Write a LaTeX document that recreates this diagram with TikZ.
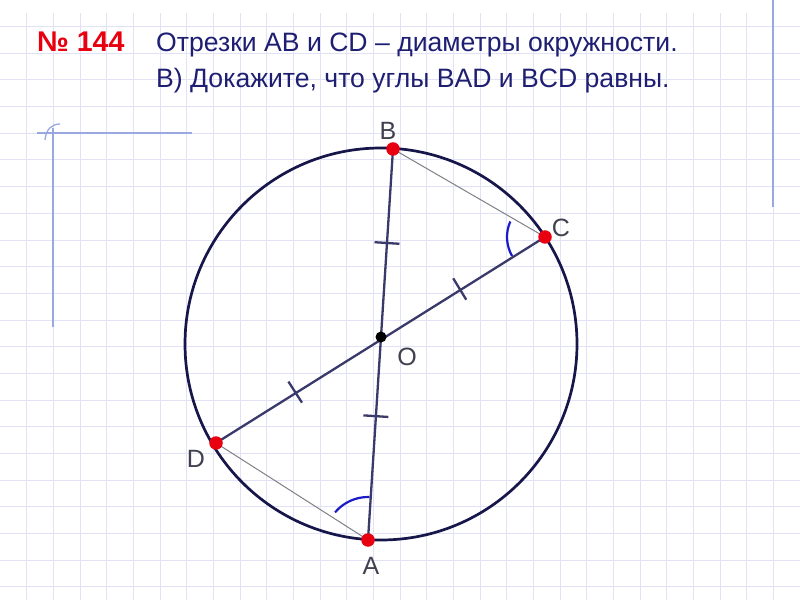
\documentclass[tikz,border=0pt]{standalone}
\usepackage{fontspec}
\setmainfont{Liberation Sans}
\usetikzlibrary{calc}
\definecolor{gridc}{HTML}{E2E2F6}
\definecolor{marginc}{HTML}{9AA8E2}
\definecolor{navy}{HTML}{1E1E72}
\definecolor{circc}{HTML}{16164A}
\definecolor{diamc}{HTML}{3A3A6A}
\definecolor{chordc}{HTML}{808088}
\definecolor{dotred}{HTML}{E80010}
\definecolor{arcblue}{HTML}{1A1AC8}
\definecolor{labc}{HTML}{404050}
\tikzset{
  gridline/.style={draw=gridc, line width=1pt},
  marginline/.style={draw=marginc, line width=1.3pt},
  circline/.style={draw=circc, line width=2.7pt},
  diam/.style={draw=diamc, line width=2.3pt},
  chord/.style={draw=chordc, line width=1pt},
  tickmark/.style={draw=diamc, line width=2.3pt},
  anglearc/.style={draw=arcblue, line width=2.2pt},
  reddot/.style={circle, fill=dotred, inner sep=0pt, minimum size=13.5pt},
  blackdot/.style={circle, fill=black, inner sep=0pt, minimum size=11pt},
  ptlabel/.style={text=labc, font=\fontsize{25}{27}\selectfont, inner sep=0pt},
  titletext/.style={text=navy, font=\fontsize{26.6}{28}\selectfont, anchor=base west, inner sep=0pt},
}
\begin{document}
\begin{tikzpicture}[x=1pt,y=1pt]
\useasboundingbox (0,0) rectangle (800,600);
\fill[white] (0,0) rectangle (800,600);
% grid
\foreach \k in {1,...,29} {
  \draw[gridline] ({\k*26.667},0) -- ({\k*26.667},587);
}
\foreach \k in {1,...,22} {
  \draw[gridline] (0,{600-\k*26.667}) -- (800,{600-\k*26.667});
}
% margin lines
\draw[marginline] (37,467) -- (192,467);
\draw[marginline] (53,472) -- (53,273);
\draw[marginline] (45,460) .. controls (46,471) and (52,476) .. (60,476);
\draw[marginline] (773,600) -- (773,393);
% title
\node[titletext, text=dotred, font=\fontsize{28.5}{30}\selectfont\bfseries] (num) at (37,548) {№ 144};
\node[titletext] (line1) at (156,548) {Отрезки AB и CD – диаметры окружности.};
\node[titletext] (line2) at (156,512) {В) Докажите, что углы BAD и BCD равны.};
% geometry
\coordinate (Oc) at (381,256);
\coordinate (O) at (381,263);
\coordinate (B) at (393,451);
\coordinate (A) at (368,60);
\coordinate (C) at (545,363);
\coordinate (D) at (216,157);
\draw[circline] (Oc) circle[radius=196];
\draw[chord] (B) -- (C);
\draw[chord] (D) -- (A);
\draw[diam] (B) -- (A);
\draw[diam] (C) -- (D);
% ticks
\draw[tickmark] ($(O)!0.5!(B)!12.5pt!90:(B)$) -- ($(O)!0.5!(B)!12.5pt!-90:(B)$);
\draw[tickmark] ($(O)!0.39!(A)!12.5pt!90:(A)$) -- ($(O)!0.39!(A)!12.5pt!-90:(A)$);
\draw[tickmark] ($(O)!0.48!(C)!12.5pt!90:(C)$) -- ($(O)!0.48!(C)!12.5pt!-90:(C)$);
\draw[tickmark] ($(O)!0.52!(D)!12.5pt!90:(D)$) -- ($(O)!0.52!(D)!12.5pt!-90:(D)$);
% angle arcs
\draw[anglearc] (C) ++(156:38) arc[start angle=156, end angle=210, radius=38];
\draw[anglearc] (A) ++(88:43) arc[start angle=88, end angle=140, radius=43];
% dots
\node[reddot] (dB) at (B) {};
\node[reddot] (dA) at (A) {};
\node[reddot] (dC) at (C) {};
\node[reddot] (dD) at (D) {};
\node[blackdot] (dO) at (O) {};
% labels
\node[ptlabel] (lB) at (388,469) {B};
\node[ptlabel] (lC) at (561,372) {C};
\node[ptlabel] (lD) at (196,141) {D};
\node[ptlabel] (lA) at (371,34) {A};
\node[ptlabel] (lO) at (407,243) {O};
\end{tikzpicture}
\end{document}
